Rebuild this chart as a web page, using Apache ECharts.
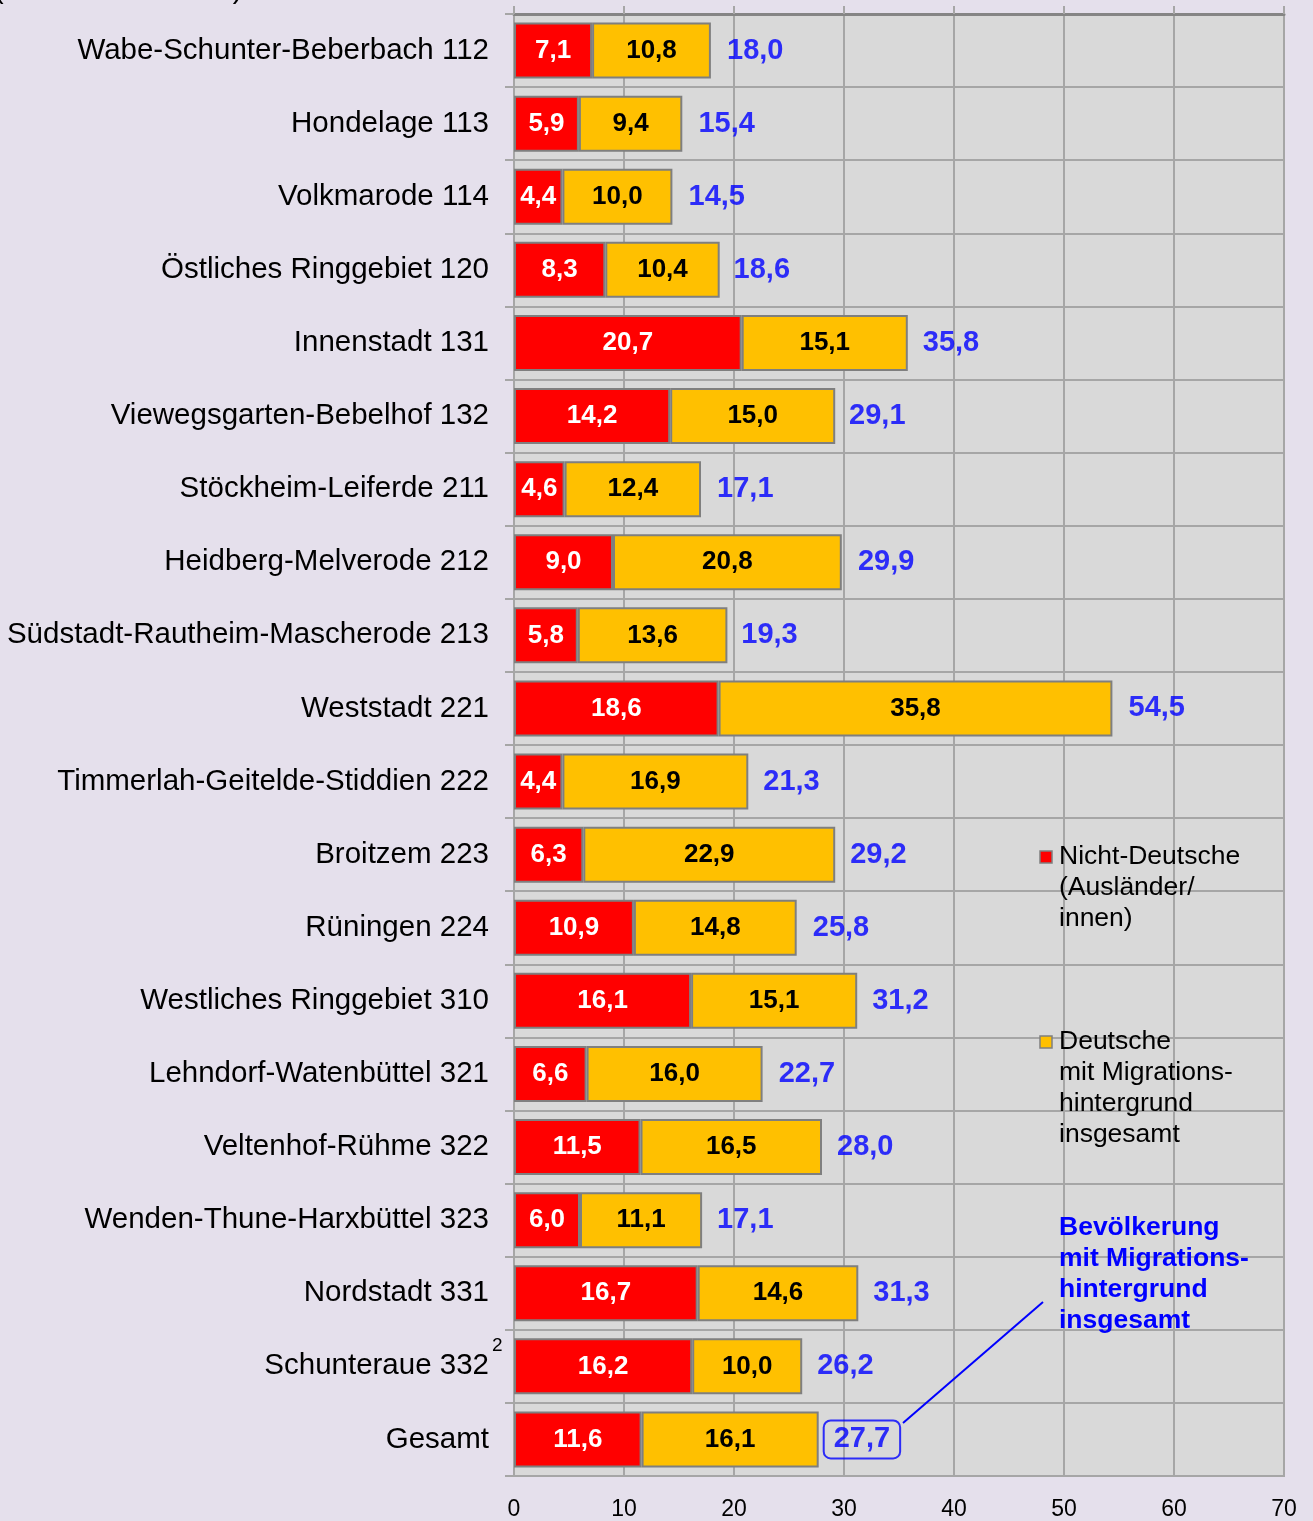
<!DOCTYPE html>
<html><head><meta charset="utf-8">
<script src="https://cdn.jsdelivr.net/npm/echarts@6/dist/echarts.min.js"></script>
<style>html,body{margin:0;padding:0;background:#E5E0EC;}#c{width:1313px;height:1521px;}</style>
</head><body><div id="c"></div>
<script>
const categories = ["Wabe-Schunter-Beberbach 112","Hondelage 113","Volkmarode 114","Östliches Ringgebiet 120","Innenstadt 131","Viewegsgarten-Bebelhof 132","Stöckheim-Leiferde 211","Heidberg-Melverode 212","Südstadt-Rautheim-Mascherode 213","Weststadt 221","Timmerlah-Geitelde-Stiddien 222","Broitzem 223","Rüningen 224","Westliches Ringgebiet 310","Lehndorf-Watenbüttel 321","Veltenhof-Rühme 322","Wenden-Thune-Harxbüttel 323","Nordstadt 331","Schunteraue 332","Gesamt"];
const nichtDeutsche = [7.1,5.9,4.4,8.3,20.7,14.2,4.6,9.0,5.8,18.6,4.4,6.3,10.9,16.1,6.6,11.5,6.0,16.7,16.2,11.6];
const deutscheMig = [10.8,9.4,10.0,10.4,15.1,15.0,12.4,20.8,13.6,35.8,16.9,22.9,14.8,15.1,16.0,16.5,11.1,14.6,10.0,16.1];
const insgesamt = [18.0,15.4,14.5,18.6,35.8,29.1,17.1,29.9,19.3,54.5,21.3,29.2,25.8,31.2,22.7,28.0,17.1,31.3,26.2,27.7];
const xTicks = [0,10,20,30,40,50,60,70];

const fmt = v => v.toFixed(1).replace('.', ',');
const FONT = '"Liberation Sans", Arial, sans-serif';
const chart = echarts.init(document.getElementById('c'));
const totalData = insgesamt.map((v,i)=>{
  const d = {value:[v, categories[i]]};
  if (categories[i] === 'Gesamt') {
    d.label = {distance:5, borderColor:'#0000FF', borderWidth:2, borderRadius:7, padding:[6,10,3,10]};
  }
  return d;
});
chart.setOption({
  backgroundColor:'#E5E0EC',
  textStyle:{fontFamily:FONT},
  grid:{left:514, right:29, top:14, bottom:45, show:true, backgroundColor:'#D9D9D9', borderColor:'#A6A6A6', borderWidth:2},
  xAxis:[{
    type:'value', min:xTicks[0], max:xTicks[xTicks.length-1], interval:10, position:'bottom',
    axisLine:{show:true, lineStyle:{color:'#A6A6A6', width:2}},
    axisTick:{show:false},
    axisLabel:{margin:22, fontSize:23, color:'#000', fontFamily:'"Liberation Sans Narrow", "Liberation Sans", sans-serif'},
    splitLine:{show:true, lineStyle:{color:'#A6A6A6', width:2}}
  },{
    type:'value', min:xTicks[0], max:xTicks[xTicks.length-1], interval:10, position:'top',
    axisLine:{show:true, lineStyle:{color:'#858585', width:3}},
    axisTick:{show:true, length:8, lineStyle:{color:'#A6A6A6', width:2}},
    axisLabel:{show:false}, splitLine:{show:false}
  }],
  yAxis:{
    type:'category', data:categories, inverse:true,
    axisLine:{show:true, lineStyle:{color:'#A6A6A6', width:2}},
    axisTick:{show:true, length:9, lineStyle:{color:'#A6A6A6', width:2}},
    axisLabel:{fontSize:29.5, color:'#000', margin:25, padding:[6,0,0,0]},
    splitLine:{show:true, lineStyle:{color:'#A6A6A6', width:2}}
  },
  series:[{
    name:'Nicht-Deutsche', type:'bar', stack:'s', data:nichtDeutsche, barWidth:56,
    itemStyle:{color:'#FF0000', borderColor:'#7F7F7F', borderWidth:2},
    label:{show:true, position:'inside', color:'#fff', fontWeight:'bold', fontSize:26, padding:[3,0,0,0], formatter:p=>fmt(p.value)}
  },{
    name:'Deutsche mit Migrationshintergrund', type:'bar', stack:'s', data:deutscheMig, barWidth:56,
    itemStyle:{color:'#FFC000', borderColor:'#7F7F7F', borderWidth:2},
    label:{show:true, position:'inside', color:'#000', fontWeight:'bold', fontSize:26, padding:[3,0,0,0], formatter:p=>fmt(p.value)}
  },{
    name:'insgesamt', type:'scatter', data:totalData, symbolSize:0, silent:true, z:5,
    label:{show:true, position:'right', distance:15, color:'#0000FF', fontWeight:'bold', fontSize:29, padding:[3,0,0,0], formatter:p=>fmt(p.value[0])}
  }],
  graphic:[
    {type:'text', z:100, left:-6, top:-25, style:{text:'(Stand 31.12.2021)', font:'29px '+FONT, fill:'#000'}},
    {type:'text', z:100, left:492, top:1336, style:{text:'2', font:'19px '+FONT, fill:'#000'}},
    {type:'rect', z:100, shape:{x:1040, y:851, width:12, height:12}, style:{fill:'#FF0000', stroke:'#7F7F7F', lineWidth:1.5}},
    {type:'text', z:100, left:1059, top:841, style:{text:'Nicht-Deutsche\n(Ausländer/\ninnen)', font:'26.5px '+FONT, lineHeight:31, fill:'#000'}},
    {type:'rect', z:100, shape:{x:1040, y:1036, width:12, height:12}, style:{fill:'#FFC000', stroke:'#7F7F7F', lineWidth:1.5}},
    {type:'text', z:100, left:1059, top:1026, style:{text:'Deutsche\nmit Migrations-\nhintergrund\ninsgesamt', font:'26.5px '+FONT, lineHeight:31, fill:'#000'}},
    {type:'text', z:100, left:1059, top:1212, style:{text:'Bevölkerung\nmit Migrations-\nhintergrund\ninsgesamt', font:'bold 26.5px '+FONT, lineHeight:31, fill:'#0000FF'}},
    {type:'line', z:100, shape:{x1:903, y1:1423, x2:1043, y2:1302}, style:{stroke:'#0000FF', lineWidth:2}}
  ]
});
</script></body></html>
